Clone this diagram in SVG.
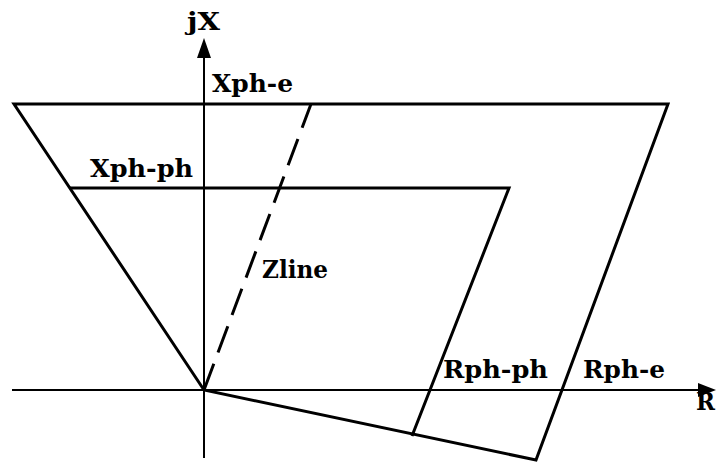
<svg xmlns="http://www.w3.org/2000/svg" width="716" height="463" viewBox="0 0 716 463">
<style>
.ax{stroke:#000;stroke-width:2;fill:none}
.ln{stroke:#000;stroke-width:3;fill:none;stroke-linejoin:miter}
.dash{stroke:#000;stroke-width:3;fill:none;stroke-dasharray:28 12}
.lb{font-family:"DejaVu Serif","Liberation Serif",serif;font-weight:bold;font-size:24px;fill:#000}
</style>
<rect width="716" height="463" fill="#fff"/>
<g id="connectors">
<line class="ax" x1="204" y1="56" x2="204" y2="458"/>
<polygon points="204,38 197,58 211,58" fill="#000"/>
<line class="ax" x1="12" y1="390" x2="700" y2="390"/>
<polygon points="716,390 698,383 698,397" fill="#000"/>
<polygon id="outer" class="ln" points="14,104 668,104 536,460 204,390"/>
<polyline id="inner" class="ln" points="70,188 509,188 412,436"/>
<line class="dash" x1="204" y1="390" x2="311" y2="104"/>
</g>
<g id="labels">
<text class="lb" x="187" y="30" textLength="33" lengthAdjust="spacingAndGlyphs">jX</text>
<text class="lb" x="212" y="92" textLength="81" lengthAdjust="spacingAndGlyphs">Xph-e</text>
<text class="lb" x="90" y="177" textLength="103" lengthAdjust="spacingAndGlyphs">Xph-ph</text>
<text class="lb" x="262" y="278" textLength="66" lengthAdjust="spacingAndGlyphs">Zline</text>
<text class="lb" x="443" y="378" textLength="105" lengthAdjust="spacingAndGlyphs">Rph-ph</text>
<text class="lb" x="583" y="378" textLength="82" lengthAdjust="spacingAndGlyphs">Rph-e</text>
<text class="lb" x="696" y="410" textLength="19" lengthAdjust="spacingAndGlyphs">R</text>
</g>
</svg>
